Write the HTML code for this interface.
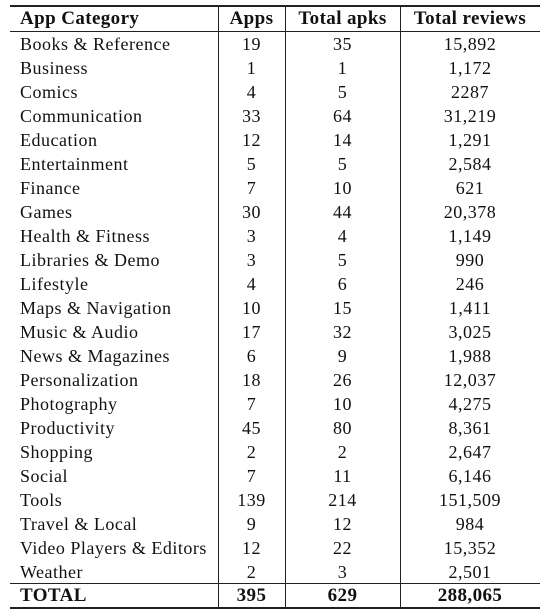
<!DOCTYPE html>
<html><head><meta charset="utf-8"><style>
body{margin:0;width:554px;height:615px;background:#fff;overflow:hidden;font-family:"Liberation Serif",serif;color:#111}
#t{position:absolute;left:0;top:0}
.c{position:absolute;font-size:18px;letter-spacing:0.5px;line-height:24px;white-space:nowrap}
.l{position:absolute;background:#222}
</style></head><body>
<div id="t"></div>
<script>
const cats=["Books & Reference","Business","Comics","Communication","Education","Entertainment","Finance","Games","Health & Fitness","Libraries & Demo","Lifestyle","Maps & Navigation","Music & Audio","News & Magazines","Personalization","Photography","Productivity","Shopping","Social","Tools","Travel & Local","Video Players & Editors","Weather"];
const apps=["19","1","4","33","12","5","7","30","3","3","4","10","17","6","18","7","45","2","7","139","9","12","2"];
const apks=["35","1","5","64","14","5","10","44","4","5","6","15","32","9","26","10","80","2","11","214","12","22","3"];
const reviews=["15,892","1,172","2287","31,219","1,291","2,584","621","20,378","1,149","990","246","1,411","3,025","1,988","12,037","4,275","8,361","2,647","6,146","151,509","984","15,352","2,501"];
const headers=["App Category","Apps","Total apks","Total reviews"];
const totals=["TOTAL","395","629","288,065"];
const t=document.getElementById('t');
const colL=[20,218,285,400],colR=[218,285,400,540];
function cell(txt,col,y,bold,name){
  const d=document.createElement('div');d.className='c';
  
  
  d.textContent=txt;d.style.top=(y+0.5)+'px';
  if(bold){d.style.fontWeight='bold';d.style.fontSize='19px';d.style.letterSpacing='0.4px';}
  if(col===0){d.style.left=colL[0]+'px';}
  else{d.style.left=colL[col]+'px';d.style.width=(colR[col]-colL[col])+'px';d.style.textAlign='center';}
  t.appendChild(d);
}
function line(x,y,w,h,name){
  const d=document.createElement('div');d.className='l';
  
  
  d.style.left=x+'px';d.style.top=y+'px';d.style.width=w+'px';d.style.height=h+'px';
  t.appendChild(d);
}
headers.forEach((h,i)=>cell(h,i,6,true,'header-cell'));
cats.forEach((c,r)=>{
  const y=31+r*24;
  cell(c,0,y,false,'category-cell');
  cell(apps[r],1,y,false,'apps-cell');
  cell(apks[r],2,y,false,'apks-cell');
  cell(reviews[r],3,y,false,'reviews-cell');
});
totals.forEach((h,i)=>cell(h,i,583,true,'total-cell'));
line(10,5,530,1.5,'top-rule');
line(10,30.5,530,1,'header-rule');
line(10,582.5,530,1,'total-rule');
line(10,607,530,1.5,'bottom-rule');
[218,285,400].forEach(x=>line(x,5,1,603,'column-divider'));
</script>
</body></html>
